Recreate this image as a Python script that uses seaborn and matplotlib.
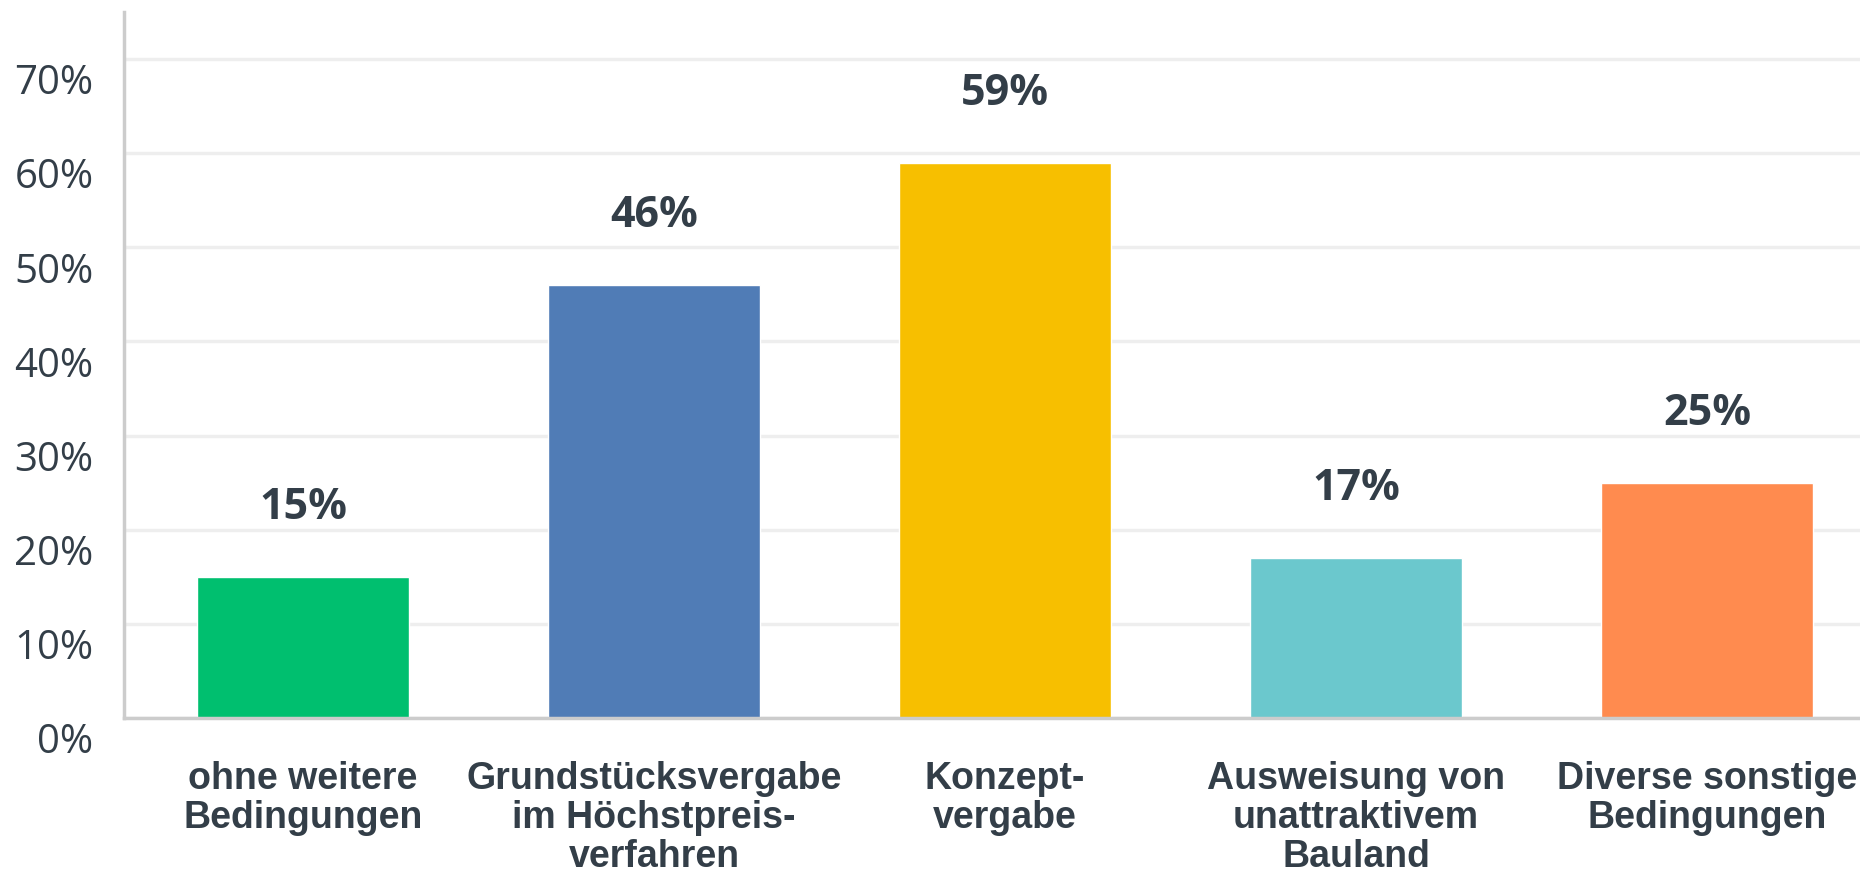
import pandas as pd
import matplotlib.pyplot as plt
import matplotlib.transforms as mtransforms
import seaborn as sns

# Data
categories = [
    "ohne weitere\nBedingungen",
    "Grundstücksvergabe\nim Höchstpreis-\nverfahren",
    "Konzept-\nvergabe",
    "Ausweisung von\nunattraktivem\nBauland",
    "Diverse sonstige\nBedingungen",
]
values = [15, 46, 59, 17, 25]
bar_colors = ["#00BF6F", "#507CB6", "#F7BF00", "#6BC8CD", "#FF8B4F"]
y_ticks = [0, 10, 20, 30, 40, 50, 60, 70]

text_color = "#333E48"

sns.set_style("white")
plt.rcParams["font.family"] = ["Open Sans", "DejaVu Sans"]

df = pd.DataFrame({"cat": categories, "val": values})

fig = plt.figure(figsize=(18.6, 8.8), dpi=100)
ax = fig.add_axes([124 / 1860, 162 / 880, 1 - 124 / 1860, (718 - 12) / 880])

sns.barplot(data=df, x="cat", y="val", hue="cat", palette=bar_colors,
            width=0.604, legend=False, ax=ax, saturation=1, zorder=3)

ax.set_xlim(-0.51, 4.436)
ax.set_ylim(0, 75)
ax.set_xlabel("")
ax.set_ylabel("")

# Grid and spines
ax.set_yticks(y_ticks)
ax.set_yticklabels([f"{t}%" for t in y_ticks], fontsize=29, color=text_color)
ax.yaxis.grid(True, color="#EEEEEE", linewidth=2.5, zorder=0)
ax.set_axisbelow(True)
for side in ["top", "right"]:
    ax.spines[side].set_visible(False)
for side in ["left", "bottom"]:
    ax.spines[side].set_color("#CCCCCC")
    ax.spines[side].set_linewidth(2.5)
    ax.spines[side].set_zorder(4)

ax.tick_params(axis="y", length=0, pad=22)
ax.tick_params(axis="x", length=0, pad=31)

# shift y tick labels down a bit, like the original
offset = mtransforms.ScaledTranslation(0, -0.20, fig.dpi_scale_trans)
for lbl in ax.get_yticklabels():
    lbl.set_transform(lbl.get_transform() + offset)

ax.set_xticks(range(len(categories)))
ax.set_xticklabels(categories, fontsize=27, fontweight="bold", color=text_color,
                   family=["Liberation Sans", "DejaVu Sans"], linespacing=1.1)

# Value labels
for i, v in enumerate(values):
    ax.annotate(f"{v}%", xy=(i, v), xytext=(0, 50), textcoords="offset points",
                ha="center", va="center", fontsize=31, fontweight="bold",
                color=text_color)

fig.savefig("out.png", dpi=100)
